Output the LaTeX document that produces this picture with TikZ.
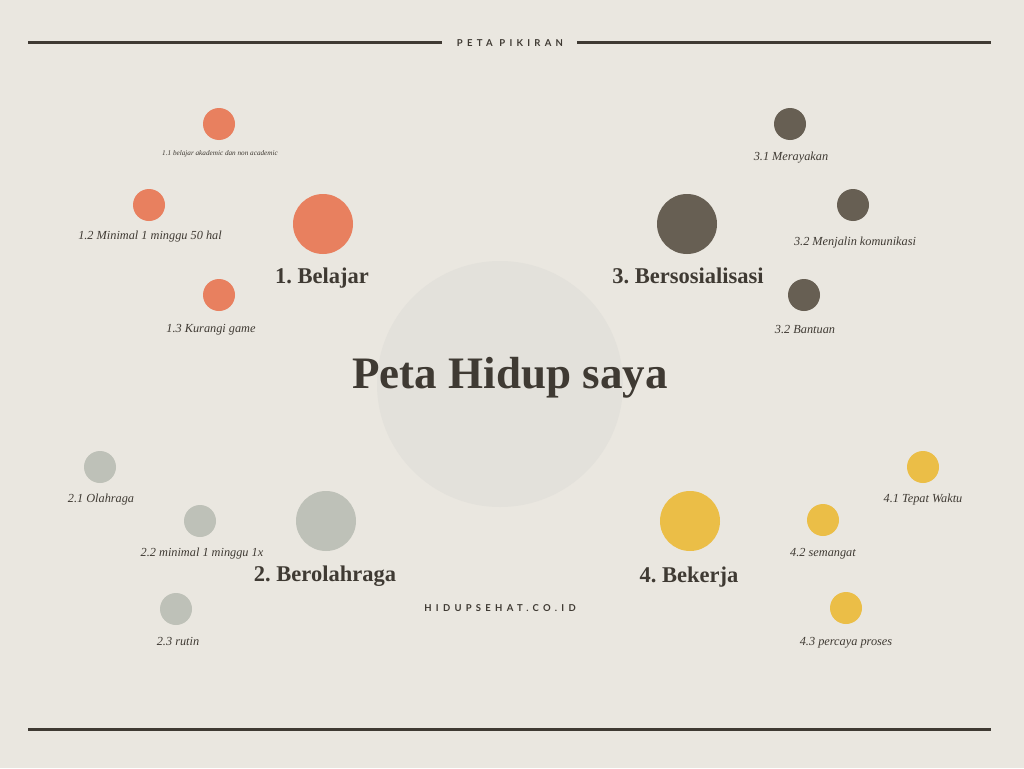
\documentclass[tikz,border=0pt]{standalone}
\usepackage{fontspec}
\setmainfont{Liberation Serif}
\newfontfamily\capsfont[LetterSpace=45]{Lato}
\usetikzlibrary{positioning}
\frenchspacing

\definecolor{paper}{HTML}{EAE7E0}
\definecolor{hub}{HTML}{E3E1DB}
\definecolor{ink}{HTML}{3F3A33}
\definecolor{coral}{HTML}{E8805F}
\definecolor{umber}{HTML}{675F53}
\definecolor{sage}{HTML}{BEC1B8}
\definecolor{mustard}{HTML}{EBBE47}

\begin{document}
\begin{tikzpicture}[x=1pt, y=-1pt,
  bigdot/.style={circle, inner sep=0pt, minimum size=60pt},
  smalldot/.style={circle, inner sep=0pt, minimum size=32pt},
  mainlabel/.style={text=ink, font=\fontsize{22.5}{27}\selectfont\bfseries},
  sublabel/.style={text=ink, font=\fontsize{12.3}{14}\selectfont\itshape},
  spaced/.style={text=ink, font=\capsfont\bfseries\fontsize{9.5}{11}\selectfont},
  rule/.style={ink, line width=3pt}]
  % Page
  \fill[paper] (0,0) rectangle (1024,768);
  \useasboundingbox (0,0) rectangle (1024,768);

  % Header and footer rules
  \draw[rule] (28,43) -- (442,43);
  \draw[rule] (577,43) -- (991,43);
  \draw[rule] (28,729) -- (991,729);
  \node[spaced] (header) at (510,43) {PETA PIKIRAN};

  % Centre
  \node[circle, fill=hub, inner sep=0pt, minimum size=246pt] (hub) at (500,384) {};
  \node[text=ink, font=\fontsize{45}{50}\selectfont\bfseries] (title) at (510,378) {Peta Hidup saya};

  % 1. Belajar
  \node[bigdot, fill=coral] (belajar) at (323,224) {};
  \node[mainlabel] (belajarlbl) at (322,278) {1. Belajar};
  \node[smalldot, fill=coral] (b1) at (219,124) {};
  \node[sublabel, font=\fontsize{7.2}{8}\selectfont\itshape] (b1lbl) at (220,154) {1.1 belajar akademic dan non academic};
  \node[smalldot, fill=coral] (b2) at (149,205) {};
  \node[sublabel] (b2lbl) at (150,237) {1.2 Minimal 1 minggu 50 hal};
  \node[smalldot, fill=coral] (b3) at (219,295) {};
  \node[sublabel] (b3lbl) at (211,330) {1.3 Kurangi game};

  % 3. Bersosialisasi
  \node[bigdot, fill=umber] (sosial) at (687,224) {};
  \node[mainlabel] (sosiallbl) at (688,276) {3. Bersosialisasi};
  \node[smalldot, fill=umber] (s1) at (790,124) {};
  \node[sublabel] (s1lbl) at (791,158) {3.1 Merayakan};
  \node[smalldot, fill=umber] (s2) at (853,205) {};
  \node[sublabel] (s2lbl) at (855,243) {3.2 Menjalin komunikasi};
  \node[smalldot, fill=umber] (s3) at (804,295) {};
  \node[sublabel] (s3lbl) at (805,330) {3.2 Bantuan};

  % 2. Berolahraga
  \node[bigdot, fill=sage] (olahraga) at (326,521) {};
  \node[mainlabel] (olahragalbl) at (325,576) {2. Berolahraga};
  \node[smalldot, fill=sage] (o1) at (100,467) {};
  \node[sublabel] (o1lbl) at (101,500) {2.1 Olahraga};
  \node[smalldot, fill=sage] (o2) at (200,521) {};
  \node[sublabel] (o2lbl) at (202,554) {2.2 minimal 1 minggu 1x};
  \node[smalldot, fill=sage] (o3) at (176,609) {};
  \node[sublabel] (o3lbl) at (178,642) {2.3 rutin};

  % 4. Bekerja
  \node[bigdot, fill=mustard] (kerja) at (690,521) {};
  \node[mainlabel] (kerjalbl) at (689,577) {4. Bekerja};
  \node[smalldot, fill=mustard] (k1) at (923,467) {};
  \node[sublabel] (k1lbl) at (923,500) {4.1 Tepat Waktu};
  \node[smalldot, fill=mustard] (k2) at (823,520) {};
  \node[sublabel] (k2lbl) at (823,554) {4.2 semangat};
  \node[smalldot, fill=mustard] (k3) at (846,608) {};
  \node[sublabel] (k3lbl) at (846,643) {4.3 percaya proses};

  % Footer
  \node[spaced] (site) at (500,608) {HIDUPSEHAT.CO.ID};
\end{tikzpicture}
\end{document}
